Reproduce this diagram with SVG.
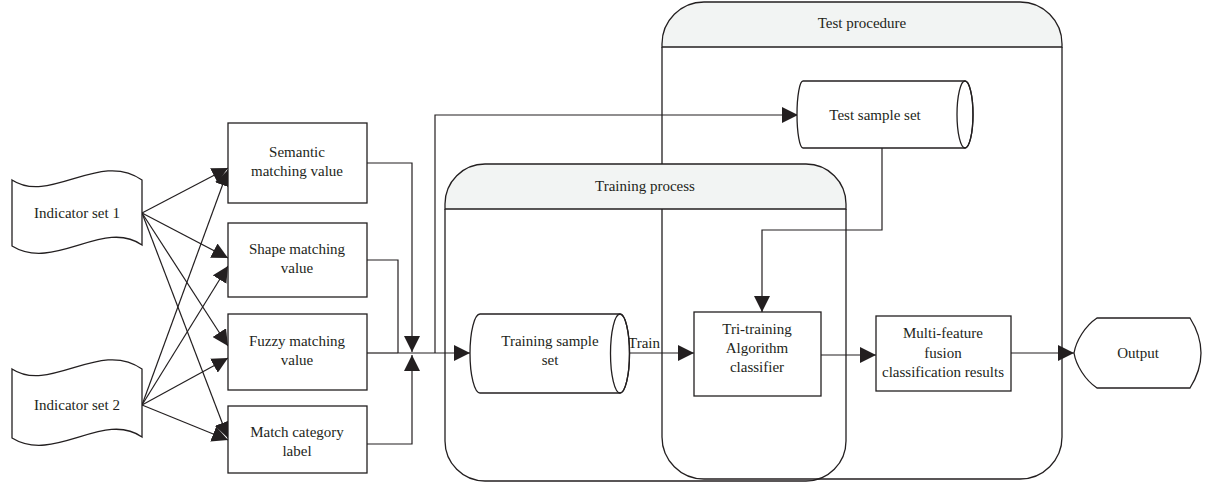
<svg xmlns="http://www.w3.org/2000/svg" width="1231" height="487" viewBox="0 0 1231 487">
<defs>
<marker id="ah" viewBox="0 0 10 10" refX="10" refY="5" markerWidth="16" markerHeight="16" markerUnits="userSpaceOnUse" orient="auto">
<path d="M0,0 L10,5 L0,10 Z" fill="#231f20"/>
</marker>
<style>
.s{fill:#fff;stroke:#231f20;stroke-width:1.3}
.n{fill:none;stroke:#231f20;stroke-width:1.3}
.h{fill:#f2f4f3;stroke:#231f20;stroke-width:1.3}
.c{fill:none;stroke:#231f20;stroke-width:1.2}
.a{fill:none;stroke:#231f20;stroke-width:1.2;marker-end:url(#ah)}
text{font-family:"Liberation Serif",serif;font-size:15px;fill:#231f20;text-anchor:middle}
</style>
</defs>
<rect width="1231" height="487" fill="#fff"/>
<g id="test-procedure">
<path class="n" d="M662,47 V437 A42,42 0 0 0 704,479 H1020 A42,42 0 0 0 1062,437 V47"/>
<path class="h" d="M662,47 V44 A42,42 0 0 1 704,2 H1020 A42,42 0 0 1 1062,44 V47 Z"/>
<text x="862" y="28">Test procedure</text>
</g>
<g id="training-process">
<path class="n" d="M445,209 V441 A40,40 0 0 0 485,481 H806 A40,40 0 0 0 846,441 V209"/>
<path class="h" d="M445,209 V204 A40,40 0 0 1 485,164 H806 A40,40 0 0 1 846,204 V209 Z"/>
<text x="645" y="191">Training process</text>
</g>
<g id="connectors">
<line class="a" x1="142" y1="213" x2="228" y2="168"/>
<line class="a" x1="142" y1="213" x2="228" y2="258"/>
<line class="a" x1="142" y1="213" x2="228" y2="346"/>
<line class="a" x1="142" y1="213" x2="228" y2="438"/>
<line class="a" x1="142" y1="405" x2="228" y2="170"/>
<line class="a" x1="142" y1="405" x2="228" y2="266"/>
<line class="a" x1="142" y1="405" x2="228" y2="358"/>
<line class="a" x1="142" y1="405" x2="228" y2="440"/>
<polyline class="a" points="367,163 412,163 412,352"/>
<polyline class="c" points="367,260 398,260 398,353"/>
<polyline class="a" points="367,444 412,444 412,355"/>
<line class="c" x1="367" y1="353" x2="398" y2="353"/>
<line class="a" x1="398" y1="353" x2="470" y2="353"/>
<polyline class="a" points="435,353 435,115 798,115"/>
<line class="a" x1="629" y1="353" x2="694" y2="353"/>
<polyline class="a" points="882,148 882,230 762,230 762,312"/>
<line class="a" x1="821" y1="355" x2="876" y2="355"/>
<line class="a" x1="1011" y1="353" x2="1074" y2="353"/>
<text x="644" y="348">Train</text>
</g>
<g id="indicator-set-1">
<path class="s" d="M12,180 C50,205 100,150 142,180 V245 C104,218 54,272 12,246 Z"/>
<text x="77" y="218">Indicator set 1</text>
</g>
<g id="indicator-set-2">
<path class="s" d="M12,369 C50,394 100,339 142,369 V437 C104,410 54,464 12,438 Z"/>
<text x="77" y="410">Indicator set 2</text>
</g>
<g id="semantic">
<rect class="s" x="228" y="123" width="139" height="80"/>
<text x="297" y="157">Semantic</text>
<text x="297" y="176">matching value</text>
</g>
<g id="shape">
<rect class="s" x="228" y="223" width="139" height="74"/>
<text x="297" y="254">Shape matching</text>
<text x="297" y="273">value</text>
</g>
<g id="fuzzy">
<rect class="s" x="228" y="314" width="139" height="76"/>
<text x="297" y="346">Fuzzy matching</text>
<text x="297" y="365">value</text>
</g>
<g id="match">
<rect class="s" x="228" y="406" width="139" height="67"/>
<text x="297" y="437">Match category</text>
<text x="297" y="456">label</text>
</g>
<g id="test-sample-set">
<path class="s" d="M803,81 H965 A8,33.5 0 0 1 965,148 H803 A6,33.5 0 0 1 803,81 Z"/>
<ellipse class="n" cx="965" cy="114.5" rx="8" ry="33.5"/>
<text x="875" y="120">Test sample set</text>
</g>
<g id="training-sample-set">
<path class="s" d="M480,314 H620 A9.5,39.5 0 0 1 620,393 H480 A10,39.5 0 0 1 480,314 Z"/>
<ellipse class="n" cx="620" cy="353.5" rx="9.5" ry="39.5"/>
<text x="550" y="346">Training sample</text>
<text x="550" y="365">set</text>
</g>
<g id="tri-training">
<rect class="s" x="694" y="312" width="127" height="84"/>
<text x="757" y="334">Tri-training</text>
<text x="757" y="353">Algorithm</text>
<text x="757" y="372">classifier</text>
</g>
<g id="multi-feature">
<rect class="s" x="876" y="316" width="135" height="75"/>
<text x="943" y="338">Multi-feature</text>
<text x="943" y="358">fusion</text>
<text x="943" y="377">classification results</text>
</g>
<g id="output">
<path class="s" d="M1097,318 H1190 Q1212,353 1190,388 H1097 C1085,380 1076,365 1074,353 C1076,341 1085,326 1097,318 Z"/>
<text x="1138" y="358">Output</text>
</g>
</svg>
